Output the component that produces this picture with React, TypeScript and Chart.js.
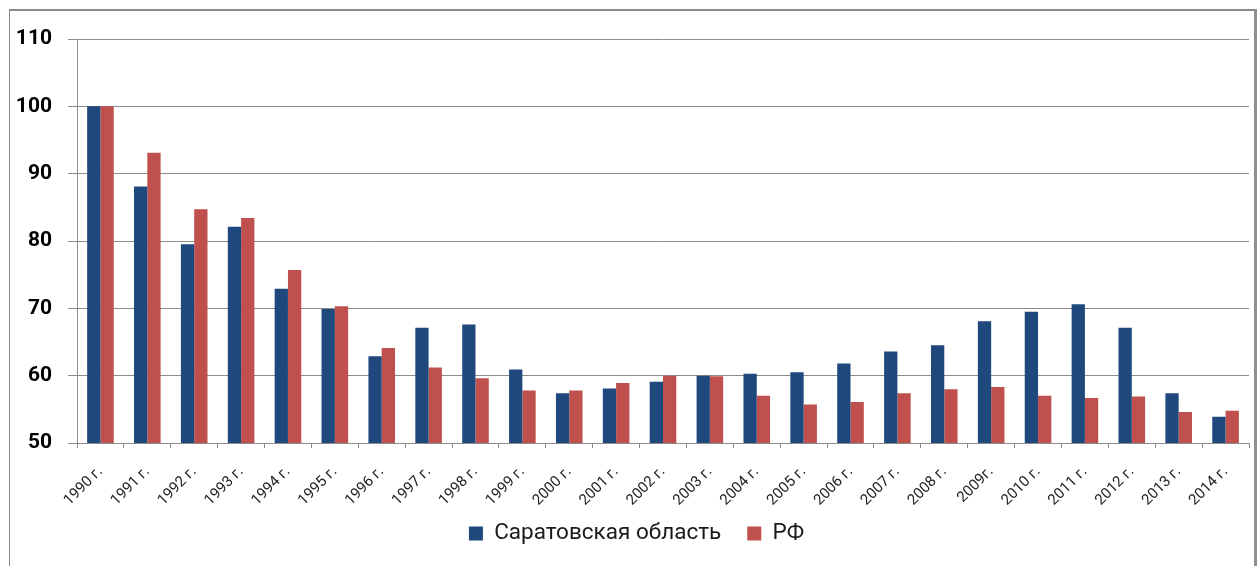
import React, { useEffect, useRef } from "react";
import { Chart, registerables } from "chart.js";

Chart.register(...registerables);

const categories = [
  "1990 г.", "1991 г.", "1992 г.", "1993 г.", "1994 г.", "1995 г.", "1996 г.",
  "1997 г.", "1998 г.", "1999 г.", "2000 г.", "2001 г.", "2002 г.", "2003 г.",
  "2004 г.", "2005 г.", "2006 г.", "2007 г.", "2008 г.", "2009г.", "2010 г.",
  "2011 г.", "2012 г.", "2013 г.", "2014 г.",
];

const saratovValues = [
  100, 88.1, 79.5, 82.1, 72.9, 69.9, 62.9, 67.1, 67.6, 60.9, 57.4, 58.1, 59.1,
  60.0, 60.3, 60.5, 61.8, 63.6, 64.5, 68.1, 69.5, 70.6, 67.1, 57.4, 53.9,
];

const rfValues = [
  100, 93.1, 84.7, 83.4, 75.7, 70.3, 64.1, 61.2, 59.6, 57.8, 57.8, 58.9, 60.0,
  59.9, 57.0, 55.7, 56.1, 57.4, 58.0, 58.3, 57.0, 56.7, 56.9, 54.6, 54.8,
];

const seriesNames = ["Саратовская область", "РФ"];
const yMin = 50;
const yMax = 110;
const yStep = 10;

const BLUE = "#1F497D";
const RED = "#C0504D";
const GRID = "#8C8C8C";

const borderPlugin = {
  id: "outerBorder",
  afterDraw(chart: any) {
    const ctx = chart.ctx;
    ctx.save();
    ctx.strokeStyle = "#8A8A8A";
    ctx.lineWidth = 1;
    ctx.beginPath();
    ctx.moveTo(9.5, 10);
    ctx.lineTo(9.5, chart.height);
    ctx.stroke();
    ctx.lineWidth = 2;
    ctx.beginPath();
    ctx.moveTo(9, 10);
    ctx.lineTo(1256, 10);
    ctx.stroke();
    ctx.lineWidth = 3;
    ctx.strokeStyle = "#8F8F8F";
    ctx.beginPath();
    ctx.moveTo(1255.5, 9);
    ctx.lineTo(1255.5, chart.height);
    ctx.stroke();
    ctx.restore();
  },
};

// nudges the legend block so it sits where the original placed it
const legendShiftPlugin = {
  id: "legendShift",
  afterLayout(chart: any) {
    const lg = chart.legend;
    if (!lg) return;
    lg.left += 24;
    lg.top -= 8.75;
    lg.bottom -= 8.75;
  },
};

export default function App() {
  const canvasRef = useRef<HTMLCanvasElement | null>(null);

  useEffect(() => {
    if (!canvasRef.current) return;
    const chart = new Chart(canvasRef.current, {
      type: "bar",
      data: {
        labels: categories,
        datasets: [
          {
            label: seriesNames[0],
            data: saratovValues,
            backgroundColor: BLUE,
            categoryPercentage: 0.567,
            barPercentage: 1.0,
          },
          {
            label: seriesNames[1],
            data: rfValues,
            backgroundColor: RED,
            categoryPercentage: 0.567,
            barPercentage: 1.0,
          },
        ],
      },
      options: {
        animation: false,
        responsive: false,
        devicePixelRatio: 1,
        layout: { padding: { left: 0, right: 10, top: 39, bottom: 2.5 } },
        plugins: {
          tooltip: { enabled: false },
          legend: {
            position: "bottom",
            labels: {
              boxWidth: 14,
              boxHeight: 14,
              padding: 26,
              color: "#1a1a1a",
              font: { family: "Roboto", size: 22.5 },
            },
          },
        },
        scales: {
          x: {
            grid: {
              display: true,
              drawOnChartArea: false,
              drawTicks: true,
              tickLength: 5,
              color: GRID,
              offset: true,
            },
            border: { display: true, color: GRID, width: 1 },
            ticks: {
              autoSkip: false,
              minRotation: 45,
              maxRotation: 45,
              padding: 15,
              color: "#222222",
              font: { family: "Roboto", size: 15 },
            },
            afterFit(scale: any) {
              scale.height = 62;
            },
          },
          y: {
            min: yMin,
            max: yMax,
            ticks: {
              stepSize: yStep,
              padding: 16,
              color: "#000000",
              font: { family: "Roboto", size: 21, weight: "bold" },
            },
            grid: {
              color: GRID,
              lineWidth: 1,
              tickLength: 9,
              tickColor: GRID,
            },
            border: { display: true, color: GRID, width: 1 },
            afterFit(scale: any) {
              scale.width = 77;
            },
          },
        },
      },
      plugins: [borderPlugin, legendShiftPlugin],
    });
    return () => chart.destroy();
  }, []);

  return (
    <div
      style={{
        position: "fixed",
        left: 0,
        top: 0,
        width: 1259,
        height: 566,
        overflow: "hidden",
        background: "#ffffff",
      }}
    >
      <canvas ref={canvasRef} width={1259} height={566} style={{ display: "block" }} />
    </div>
  );
}
